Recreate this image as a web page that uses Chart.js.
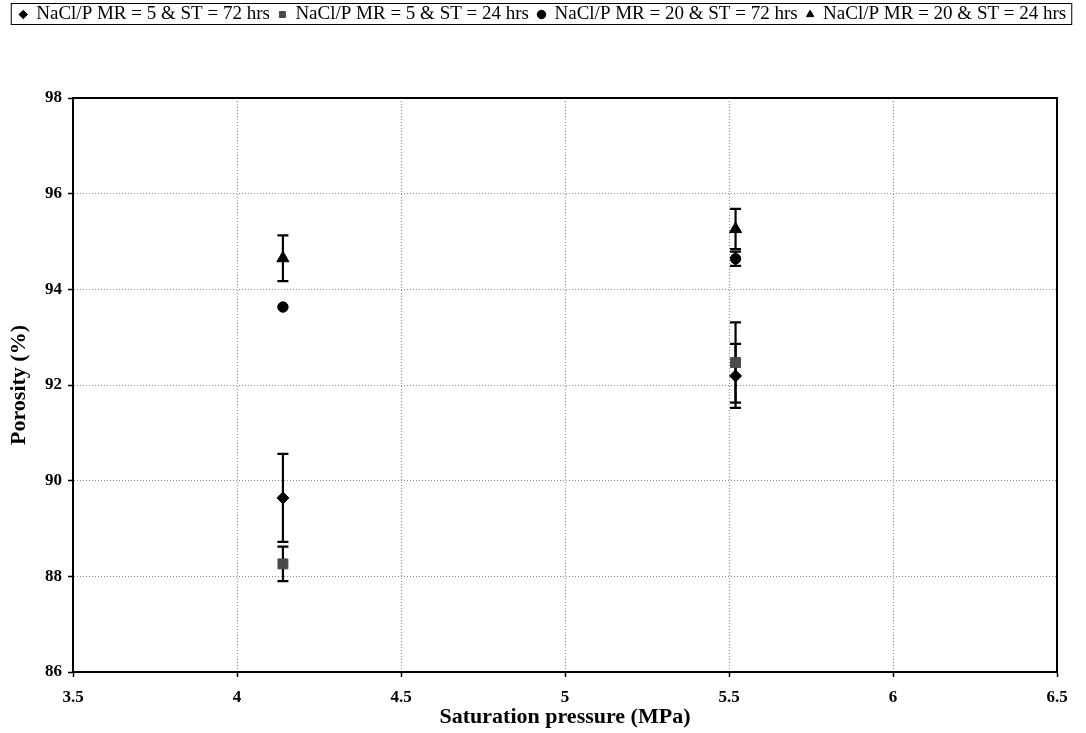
<!DOCTYPE html>
<html lang="en">
<head>
  <meta charset="UTF-8" />
  <title>Porosity vs saturation pressure</title>
  <script src="https://cdn.jsdelivr.net/npm/chart.js"></script>
  <style>
    html, body { margin: 0; padding: 0; background: #fff; }
    #wrap { width: 1086px; height: 733px; }
  </style>
</head>
<body>
  <div id="wrap"><canvas id="porosityChart"></canvas></div>

  <script>
    // saturation pressures (MPa)
    const pressures = [4.14, 5.52];

    const seriesLabels = [
      "NaCl/P MR = 5 & ST = 72 hrs",
      "NaCl/P MR = 5 & ST = 24 hrs",
      "NaCl/P MR = 20 & ST = 72 hrs",
      "NaCl/P MR = 20 & ST = 24 hrs"
    ];

    // porosity (%) and error bar half-widths
    const mr5st72 = [89.64, 92.19];
    const mr5st72Err = [0.92, 0.67];
    const mr5st24 = [88.26, 92.47];
    const mr5st24Err = [0.36, 0.84];
    const mr20st72 = [93.63, 94.64];
    const mr20st72Err = [0, 0.15];
    const mr20st24 = [94.65, 95.26];
    const mr20st24Err = [0.48, 0.42];

    const xTicks = [3.5, 4, 4.5, 5, 5.5, 6, 6.5];
    const yTicks = [86, 88, 90, 92, 94, 96, 98];

    const serif = "'Liberation Serif', 'Times New Roman', serif";

    function toPoints(values) {
      return values.map((v, i) => ({ x: pressures[i], y: v }));
    }

    function makeSet(label, values, errors, style, color, radius) {
      return {
        label: label,
        data: toPoints(values),
        errors: errors,
        pointStyle: style,
        pointRadius: radius,
        pointHoverRadius: radius,
        backgroundColor: color,
        borderColor: color,
        borderWidth: 1
      };
    }

    // push the plot down below the legend
    const legendSpace = {
      id: 'legendSpace',
      beforeInit(chart) {
        const fit = chart.legend.fit;
        chart.legend.fit = function () {
          fit.bind(chart.legend)();
          this.height = 102;
        };
      }
    };

    const errorBars = {
      id: 'errorBars',
      beforeDatasetsDraw(chart) {
        const { ctx, scales: { x, y } } = chart;
        ctx.save();
        ctx.strokeStyle = '#000';
        ctx.lineWidth = 2.2;
        chart.data.datasets.forEach(ds => {
          ds.data.forEach((pt, i) => {
            const e = ds.errors[i];
            if (!e) return;
            const px = x.getPixelForValue(pt.x);
            const top = y.getPixelForValue(pt.y + e);
            const bot = y.getPixelForValue(pt.y - e);
            ctx.beginPath();
            ctx.moveTo(px, top);
            ctx.lineTo(px, bot);
            ctx.moveTo(px - 5.5, top);
            ctx.lineTo(px + 5.5, top);
            ctx.moveTo(px - 5.5, bot);
            ctx.lineTo(px + 5.5, bot);
            ctx.stroke();
          });
        });
        ctx.restore();
      }
    };

    const frames = {
      id: 'frames',
      afterDraw(chart) {
        const { ctx, chartArea: a } = chart;
        ctx.save();
        ctx.strokeStyle = '#000';
        ctx.lineWidth = 2;
        ctx.strokeRect(a.left, a.top, a.right - a.left, a.bottom - a.top);
        // box round the legend
        const boxes = chart.legend.legendHitBoxes;
        if (boxes.length) {
          const left = Math.min(...boxes.map(b => b.left));
          const right = Math.max(...boxes.map(b => b.left + b.width));
          const top = Math.min(...boxes.map(b => b.top));
          const bottom = Math.max(...boxes.map(b => b.top + b.height));
          ctx.lineWidth = 1;
          ctx.strokeRect(left - 8.5, top - 1.5, right - left + 14, bottom - top + 2);
        }
        ctx.restore();
      }
    };

    const gridStyle = {
      color: '#888',
      lineWidth: 1,
      tickColor: '#000',
      tickLength: 5,
      tickWidth: 1.5,
      tickBorderDash: []
    };

    new Chart(document.getElementById('porosityChart'), {
      type: 'scatter',
      data: {
        datasets: [
          makeSet(seriesLabels[0], mr5st72, mr5st72Err, 'rectRot', '#000', 6),
          makeSet(seriesLabels[1], mr5st24, mr5st24Err, 'rect', '#4a4a4a', 7),
          makeSet(seriesLabels[2], mr20st72, mr20st72Err, 'circle', '#000', 5.2),
          makeSet(seriesLabels[3], mr20st24, mr20st24Err, 'triangle', '#000', 7)
        ]
      },
      options: {
        responsive: true,
        maintainAspectRatio: false,
        animation: false,
        layout: { padding: { top: -4, left: 0, right: 0, bottom: 0 } },
        plugins: {
          tooltip: { enabled: false },
          legend: {
            position: 'top',
            labels: {
              usePointStyle: true,
              boxWidth: 7,
              boxHeight: 6,
              padding: 9,
              color: '#000',
              font: { family: serif, size: 19 }
            }
          }
        },
        scales: {
          x: {
            type: 'linear',
            min: 3.5,
            max: 6.5,
            afterBuildTicks: s => { s.ticks = xTicks.map(v => ({ value: v })); },
            afterFit: s => { s.height = 61; },
            grid: gridStyle,
            border: { color: '#000', width: 2, dash: [1, 2] },
            ticks: {
              color: '#000',
              padding: 10,
              callback: v => String(v),
              font: { family: serif, size: 17, weight: 'bold' }
            },
            title: {
              display: true,
              text: 'Saturation pressure (MPa)',
              color: '#000',
              padding: { top: 0, bottom: 2 },
              font: { family: serif, size: 22, weight: 'bold' }
            }
          },
          y: {
            type: 'linear',
            min: 86,
            max: 98,
            afterBuildTicks: s => { s.ticks = yTicks.map(v => ({ value: v })); },
            afterFit: s => { s.width = 73; },
            grid: gridStyle,
            border: { color: '#000', width: 2, dash: [1, 2] },
            ticks: {
              color: '#000',
              padding: 6,
              callback: v => String(v),
              font: { family: serif, size: 17, weight: 'bold' }
            },
            title: {
              display: true,
              text: 'Porosity (%)',
              color: '#000',
              padding: { top: 6, bottom: 0 },
              font: { family: serif, size: 22, weight: 'bold' }
            }
          },
          // empty axis that keeps the right margin
          y2: {
            type: 'linear',
            position: 'right',
            min: 86,
            max: 98,
            afterFit: s => { s.width = 29; },
            grid: { display: false },
            border: { display: false },
            ticks: { display: false }
          }
        }
      },
      plugins: [legendSpace, errorBars, frames]
    });
  </script>
</body>
</html>
